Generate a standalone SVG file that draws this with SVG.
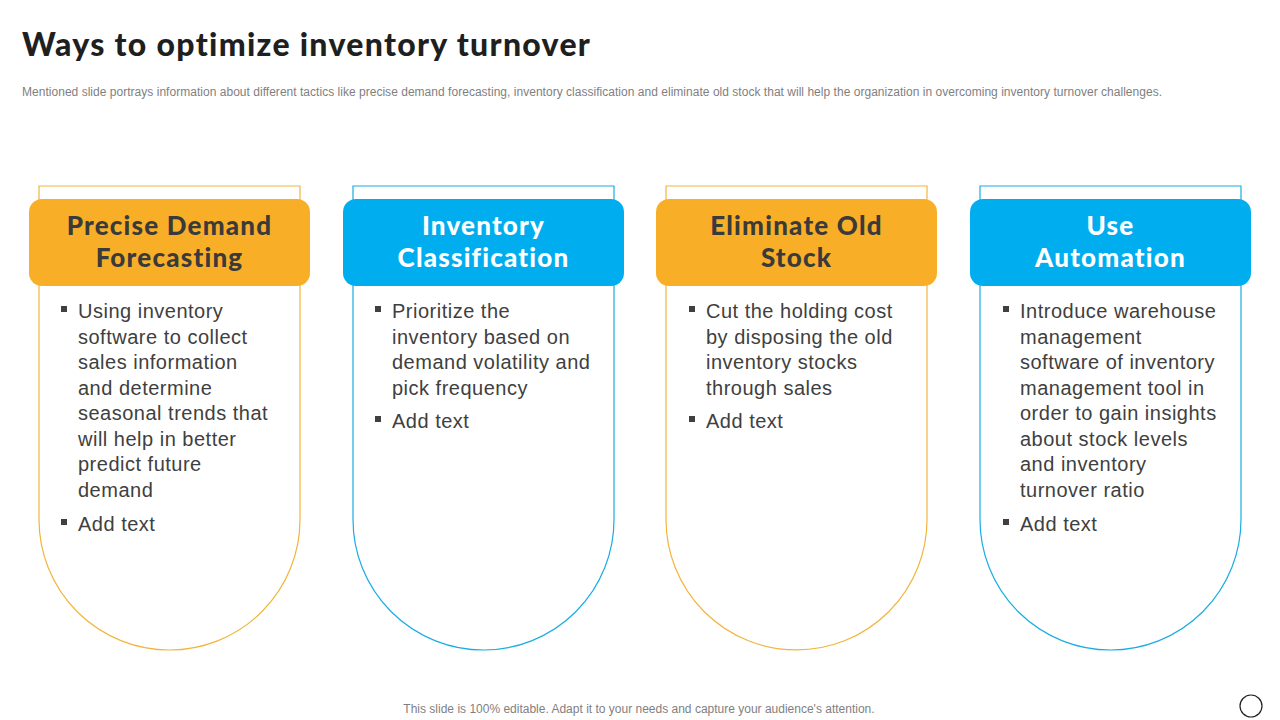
<svg xmlns="http://www.w3.org/2000/svg" width="1280" height="720" viewBox="0 0 1280 720">
<style>
.o{fill:#fff;stroke-width:1.2}
.oo{stroke:#F2B53C}.ob{stroke:#1AACE3}
.hd{font-family:Lato,"Liberation Sans",sans-serif;font-weight:900;font-size:26px;letter-spacing:1.2px;text-anchor:middle}
.bd{font-family:"Liberation Sans",Arial,sans-serif;font-size:20px;letter-spacing:0.5px;fill:#404040}
.bl{fill:#404040}
</style>
<rect width="1280" height="720" fill="#fff"/>
<text x="22" y="56" font-family="Lato,'Liberation Sans',sans-serif" font-weight="900" font-size="32" letter-spacing="1.3" fill="#1f1f1f">Ways to optimize inventory turnover</text>
<text x="22" y="96" font-family="'Liberation Sans',Arial,sans-serif" font-size="12" fill="#7f7f7f" textLength="1140">Mentioned slide portrays information about different tactics  like precise demand forecasting, inventory classification and eliminate old stock that will help the organization in overcoming inventory turnover challenges.</text>

<g id="card1">
<path class="o oo" d="M39,186H300V519.5A130.5,130.5 0 0 1 39,519.5Z"/>
<rect x="29" y="199" width="281" height="87" rx="13" fill="#F9AE28"/>
<text class="hd" fill="#3a3a3a" x="169.5" y="235">Precise Demand</text>
<text class="hd" fill="#3a3a3a" x="169.5" y="267">Forecasting</text>
<g class="bd"><rect class="bl" x="61" y="306" width="6" height="6"/>
<text x="78" y="318">Using inventory</text><text x="78" y="343.5">software to collect</text><text x="78" y="369">sales information</text><text x="78" y="394.5">and determine</text><text x="78" y="420">seasonal trends that</text><text x="78" y="445.5">will help in better</text><text x="78" y="471">predict future</text><text x="78" y="496.5">demand</text>
<rect class="bl" x="61" y="519" width="6" height="6"/><text x="78" y="531">Add text</text></g>
</g>

<g id="card2">
<path class="o ob" d="M353,186H614V519.5A130.5,130.5 0 0 1 353,519.5Z"/>
<rect x="343" y="199" width="281" height="87" rx="13" fill="#00AEEF"/>
<text class="hd" fill="#fff" x="483.5" y="235">Inventory</text>
<text class="hd" fill="#fff" x="483.5" y="267">Classification</text>
<g class="bd"><rect class="bl" x="375" y="306" width="6" height="6"/>
<text x="392" y="318">Prioritize the</text><text x="392" y="343.5">inventory based on</text><text x="392" y="369">demand  volatility and</text><text x="392" y="394.5">pick frequency</text>
<rect class="bl" x="375" y="416" width="6" height="6"/><text x="392" y="428">Add text</text></g>
</g>

<g id="card3">
<path class="o oo" d="M666,186H927V519.5A130.5,130.5 0 0 1 666,519.5Z"/>
<rect x="656" y="199" width="281" height="87" rx="13" fill="#F9AE28"/>
<text class="hd" fill="#3a3a3a" x="796.5" y="235">Eliminate Old</text>
<text class="hd" fill="#3a3a3a" x="796.5" y="267">Stock</text>
<g class="bd"><rect class="bl" x="689" y="306" width="6" height="6"/>
<text x="706" y="318">Cut the holding cost</text><text x="706" y="343.5">by disposing the old</text><text x="706" y="369">inventory stocks</text><text x="706" y="394.5">through sales</text>
<rect class="bl" x="689" y="416" width="6" height="6"/><text x="706" y="428">Add text</text></g>
</g>

<g id="card4">
<path class="o ob" d="M980,186H1241V519.5A130.5,130.5 0 0 1 980,519.5Z"/>
<rect x="970" y="199" width="281" height="87" rx="13" fill="#00AEEF"/>
<text class="hd" fill="#fff" x="1110.5" y="235">Use</text>
<text class="hd" fill="#fff" x="1110.5" y="267">Automation</text>
<g class="bd"><rect class="bl" x="1003" y="306" width="6" height="6"/>
<text x="1020" y="318">Introduce warehouse</text><text x="1020" y="343.5">management</text><text x="1020" y="369">software of inventory</text><text x="1020" y="394.5">management tool in</text><text x="1020" y="420">order to gain insights</text><text x="1020" y="445.5">about stock levels</text><text x="1020" y="471">and inventory</text><text x="1020" y="496.5">turnover ratio</text>
<rect class="bl" x="1003" y="519" width="6" height="6"/><text x="1020" y="531">Add text</text></g>
</g>

<g id="connectors"/>
<text x="639" y="713" text-anchor="middle" font-family="'Liberation Sans',Arial,sans-serif" font-size="12" fill="#7f7f7f">This slide is 100% editable. Adapt it to your needs and capture your audience's attention.</text>
<circle cx="1251" cy="706" r="11" fill="none" stroke="#222" stroke-width="1.2"/>
</svg>
